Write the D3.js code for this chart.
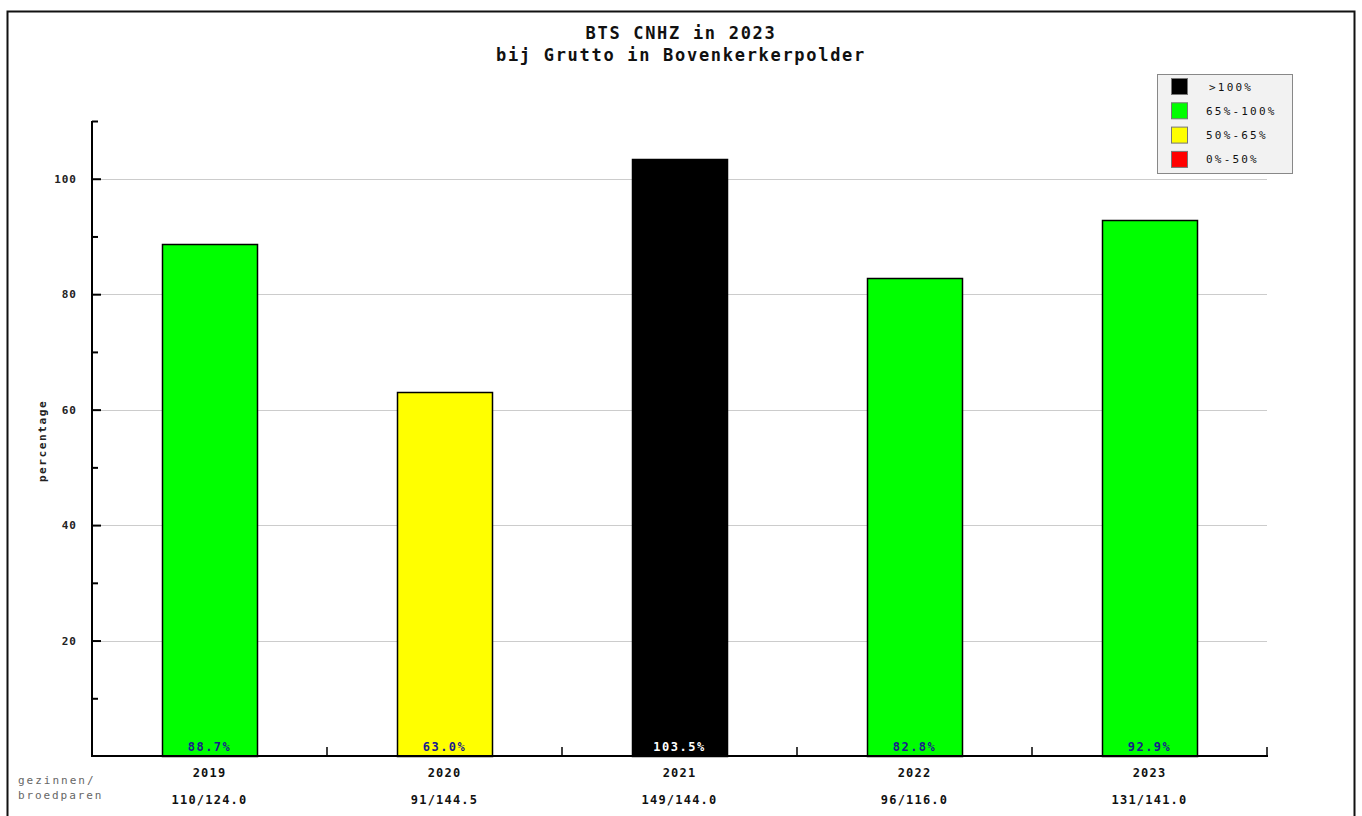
<!DOCTYPE html>
<html><head><meta charset="utf-8">
<script src="https://cdn.jsdelivr.net/npm/d3@7"></script>
<style>body{margin:0;background:#fff;} svg{display:block;} text{font-family:"DejaVu Sans Mono","Liberation Mono",monospace;}</style>
</head><body>
<svg id="c" width="1362" height="816"></svg>
<script>
const years = ["2019","2020","2021","2022","2023"];
const percentages = [88.7, 63.0, 103.5, 82.8, 92.9];
const fractions = ["110/124.0","91/144.5","149/144.0","96/116.0","131/141.0"];
const legendLabels = [">100%","65%-100%","50%-65%","0%-50%"];
const legendColors = ["#000000","#00ff00","#ffff00","#ff0000"];
const yTicks = [20,40,60,80,100];

const svg = d3.select("#c");
const m = {l:92, r:1267, t:121, b:756};
svg.append("rect").attr("x",7.5).attr("y",11.5).attr("width",1347).attr("height",820)
  .attr("fill","none").attr("stroke","#111").attr("stroke-width",2);

const x = d3.scaleBand().domain(years).range([m.l,m.r]).paddingInner(0).paddingOuter(0);
const y = d3.scaleLinear().domain([0,110]).range([m.b,m.t]);

function colorFor(p){ return p>100?legendColors[0]:p>=65?legendColors[1]:p>=50?legendColors[2]:legendColors[3]; }

svg.append("g").selectAll("line").data(yTicks).join("line")
  .attr("x1",m.l).attr("x2",m.r).attr("y1",d=>Math.round(y(d))+0.5).attr("y2",d=>Math.round(y(d))+0.5)
  .attr("stroke","#cccccc").attr("stroke-width",1);

const bw = 95;
svg.append("g").selectAll("rect").data(years).join("rect")
  .attr("x",(d,i)=>Math.round(x(d)+x.bandwidth()/2-bw/2)+0.5)
  .attr("y",(d,i)=>Math.round(y(percentages[i]))+0.5)
  .attr("width",bw)
  .attr("height",(d,i)=>Math.round(m.b-y(percentages[i])))
  .attr("fill",(d,i)=>colorFor(percentages[i]))
  .attr("stroke","#000").attr("stroke-width",1.5);

svg.append("g").selectAll("text").data(years).join("text")
  .attr("x",d=>x(d)+x.bandwidth()/2).attr("y",751)
  .attr("text-anchor","middle").attr("font-size",12).attr("letter-spacing",1.5).attr("font-weight","bold")
  .attr("fill",(d,i)=>percentages[i]>100?"#ffffff":"#1a1a8c")
  .text((d,i)=>percentages[i].toFixed(1)+"%");

const yAxis = d3.axisRight(y).tickValues(yTicks).tickSize(9).tickFormat("");
const ga = svg.append("g").attr("transform",`translate(${m.l},0)`).call(yAxis);
ga.select(".domain").remove();
ga.selectAll("line").attr("stroke","#000").attr("stroke-width",2);
const minor = d3.axisRight(y).tickValues([10,30,50,70,90,110]).tickSize(6).tickFormat("");
const gm = svg.append("g").attr("transform",`translate(${m.l},0)`).call(minor);
gm.select(".domain").remove();
gm.selectAll("line").attr("stroke","#000").attr("stroke-width",2);
svg.append("line").attr("x1",m.l).attr("x2",m.l).attr("y1",m.t).attr("y2",m.b+1).attr("stroke","#000").attr("stroke-width",2);
svg.append("g").selectAll("text").data(yTicks).join("text")
  .attr("x",m.l-15).attr("y",d=>y(d)+4).attr("text-anchor","end")
  .attr("font-size",11).attr("letter-spacing",1).attr("font-weight","bold").attr("fill","#222").text(d=>d);
svg.append("text").attr("transform",`translate(46,441) rotate(-90)`).attr("text-anchor","middle")
  .attr("font-size",11).attr("letter-spacing",1.6).attr("font-weight","bold").attr("fill","#222").text("percentage");

svg.append("line").attr("x1",m.l).attr("x2",m.r+1).attr("y1",m.b).attr("y2",m.b).attr("stroke","#000").attr("stroke-width",2);
const bounds = years.map(d=>x(d)).concat([m.r]).slice(1);
svg.append("g").selectAll("line").data(bounds).join("line")
  .attr("x1",d=>d).attr("x2",d=>d).attr("y1",m.b).attr("y2",m.b-9).attr("stroke","#000").attr("stroke-width",1.5);
svg.append("g").selectAll("text").data(years).join("text")
  .attr("x",d=>x(d)+x.bandwidth()/2).attr("y",777).attr("text-anchor","middle")
  .attr("font-size",12).attr("letter-spacing",1.2).attr("font-weight","bold").attr("fill","#111").text(d=>d);
svg.append("g").selectAll("text").data(years).join("text")
  .attr("x",d=>x(d)+x.bandwidth()/2).attr("y",804).attr("text-anchor","middle")
  .attr("font-size",12).attr("letter-spacing",1.2).attr("font-weight","bold").attr("fill","#111").text((d,i)=>fractions[i]);
svg.append("text").attr("x",18).attr("y",784).attr("font-size",11).attr("letter-spacing",2).attr("fill","#666").text("gezinnen/");
svg.append("text").attr("x",18).attr("y",799).attr("font-size",11).attr("letter-spacing",1.9).attr("fill","#666").text("broedparen");

svg.append("text").attr("x",681).attr("y",39).attr("text-anchor","middle").attr("font-size",17).attr("letter-spacing",1.7).attr("font-weight","bold").attr("fill","#111").text("BTS CNHZ in 2023");
svg.append("text").attr("x",681).attr("y",61).attr("text-anchor","middle").attr("font-size",17).attr("letter-spacing",1.7).attr("font-weight","bold").attr("fill","#111").text("bij Grutto in Bovenkerkerpolder");

const lg = svg.append("g");
lg.append("rect").attr("x",1157.5).attr("y",74.5).attr("width",135).attr("height",99).attr("fill","#f2f2f2").attr("stroke","#888");
const rows = lg.selectAll("g").data(legendLabels).join("g").attr("transform",(d,i)=>`translate(0,${78+i*24.3})`);
rows.append("rect").attr("x",1171.5).attr("y",0.5).attr("width",16).attr("height",16)
  .attr("fill",(d,i)=>legendColors[i]).attr("stroke","#777");
rows.append("text").attr("x",(d,i)=>i===0?1209:1206).attr("y",12.5).attr("font-size",11).attr("letter-spacing",2.2).attr("fill","#111").text(d=>d);
</script>
</body></html>
